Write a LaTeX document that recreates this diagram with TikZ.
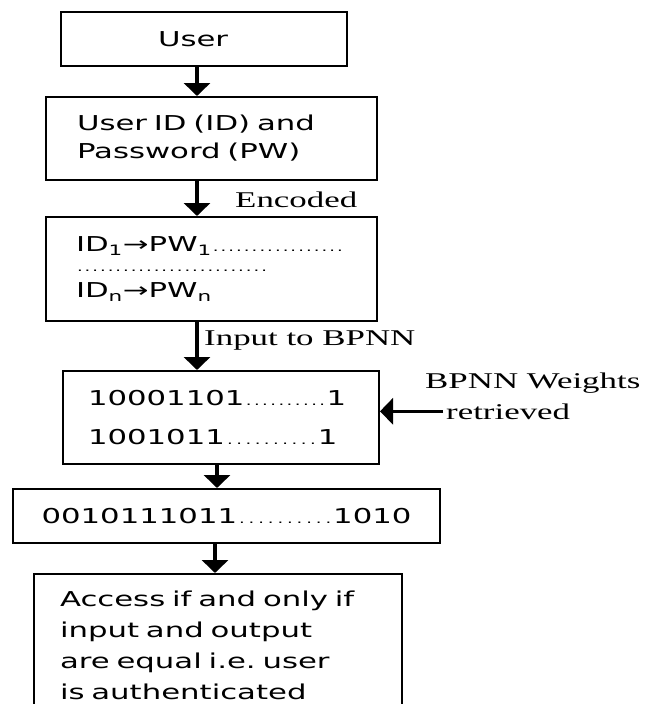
\documentclass[tikz,border=0pt]{standalone}
\usepackage{fontspec}
\setmainfont{DejaVu Sans}
\newfontfamily\boxfont[FakeStretch=1.5]{DejaVu Sans}
\newfontfamily\lblfont[FakeStretch=1.55]{Liberation Serif}
\usetikzlibrary{arrows.meta}
\newcommand{\dotrun}[2]{\leavevmode\hbox to #1{\fontsize{12}{12}\selectfont\xleaders\hbox to #2{\hss.\hss}\hfil}}
\tikzset{
  box/.style={draw, line width=2pt, align=left, inner ysep=0pt, font=\boxfont\fontsize{20.5}{28}\selectfont},
  flow/.style={-{Triangle[width=26pt,length=13pt]}, line width=3.5pt},
  lbl/.style={inner xsep=3pt, inner ysep=0pt, font=\lblfont\fontsize{22.5}{27}\selectfont}
}

\begin{document}
\begin{tikzpicture}[x=1pt, y=-1pt]
    \useasboundingbox (0,0) rectangle (645,704);
    \clip (0,0) rectangle (645,704);
    \node[box, text width=92pt, inner xsep=97pt, minimum height=54pt] (user) at (204,39) {User};
    \node[box, text width=269pt, inner xsep=31pt, minimum height=83pt] (id) at (211.5,138.5) {User ID (ID) and\\Password (PW)};
    \node[box, text width=271pt, inner xsep=30pt, minimum height=104pt, font=\boxfont\fontsize{20.5}{23}\selectfont] (enc) at (211.5,269)
      {ID\textsubscript{1}→PW\textsubscript{1}\dotrun{132pt}{7.5pt}\\
       \raisebox{3pt}{\dotrun{192pt}{7.5pt}}\\
       ID\textsubscript{n}→PW\textsubscript{n}};
    \node[box, text width=266pt, inner xsep=25pt, minimum height=93pt, font=\boxfont\fontsize{20.5}{39}\selectfont] (bits) at (221,417.5)
      {10001101\dotrun{82pt}{8pt}1\\1001011\dotrun{93pt}{8.5pt}1};
    \node[box, align=center, minimum width=427pt, minimum height=54pt] (out) at (226.5,516) {0010111011\dotrun{96pt}{9.6pt}1010};
    \node[box, anchor=north, text width=316pt, inner xsep=26pt, inner ysep=16.8pt, font=\boxfont\fontsize{20.5}{31}\selectfont] (acc) at (218,573)
      {Access if and only if\\input and output\\are equal i.e.\ user\\is authenticated};
    % labels on the arrows
    \node[lbl, anchor=base west] (encl) at (232,207) {Encoded};
    \node[lbl, anchor=base west] (inl) at (201,345) {Input to BPNN};
    \node[lbl, anchor=base west] (wts) at (422,388) {BPNN Weights};
    \node[lbl, anchor=base west] (ret) at (443,419) {retrieved};
    \draw[flow] ([xshift=-7pt]user.south) -- ([xshift=-7pt]user.south |- id.north);
    \draw[flow] ([xshift=-14.5pt]id.south) -- ([xshift=-14.5pt]id.south |- enc.north);
    \draw[flow] ([xshift=-14.5pt]enc.south) -- ([xshift=-14.5pt]enc.south |- bits.north);
    \draw[flow] ([xshift=-4pt]bits.south) -- ([xshift=-4pt]bits.south |- out.north);
    \draw[flow] ([xshift=-11.5pt]out.south) -- ([xshift=-11.5pt]out.south |- acc.north);
    \draw[flow] (ret.west) -- (ret.west -| bits.east);
\end{tikzpicture}
\end{document}
